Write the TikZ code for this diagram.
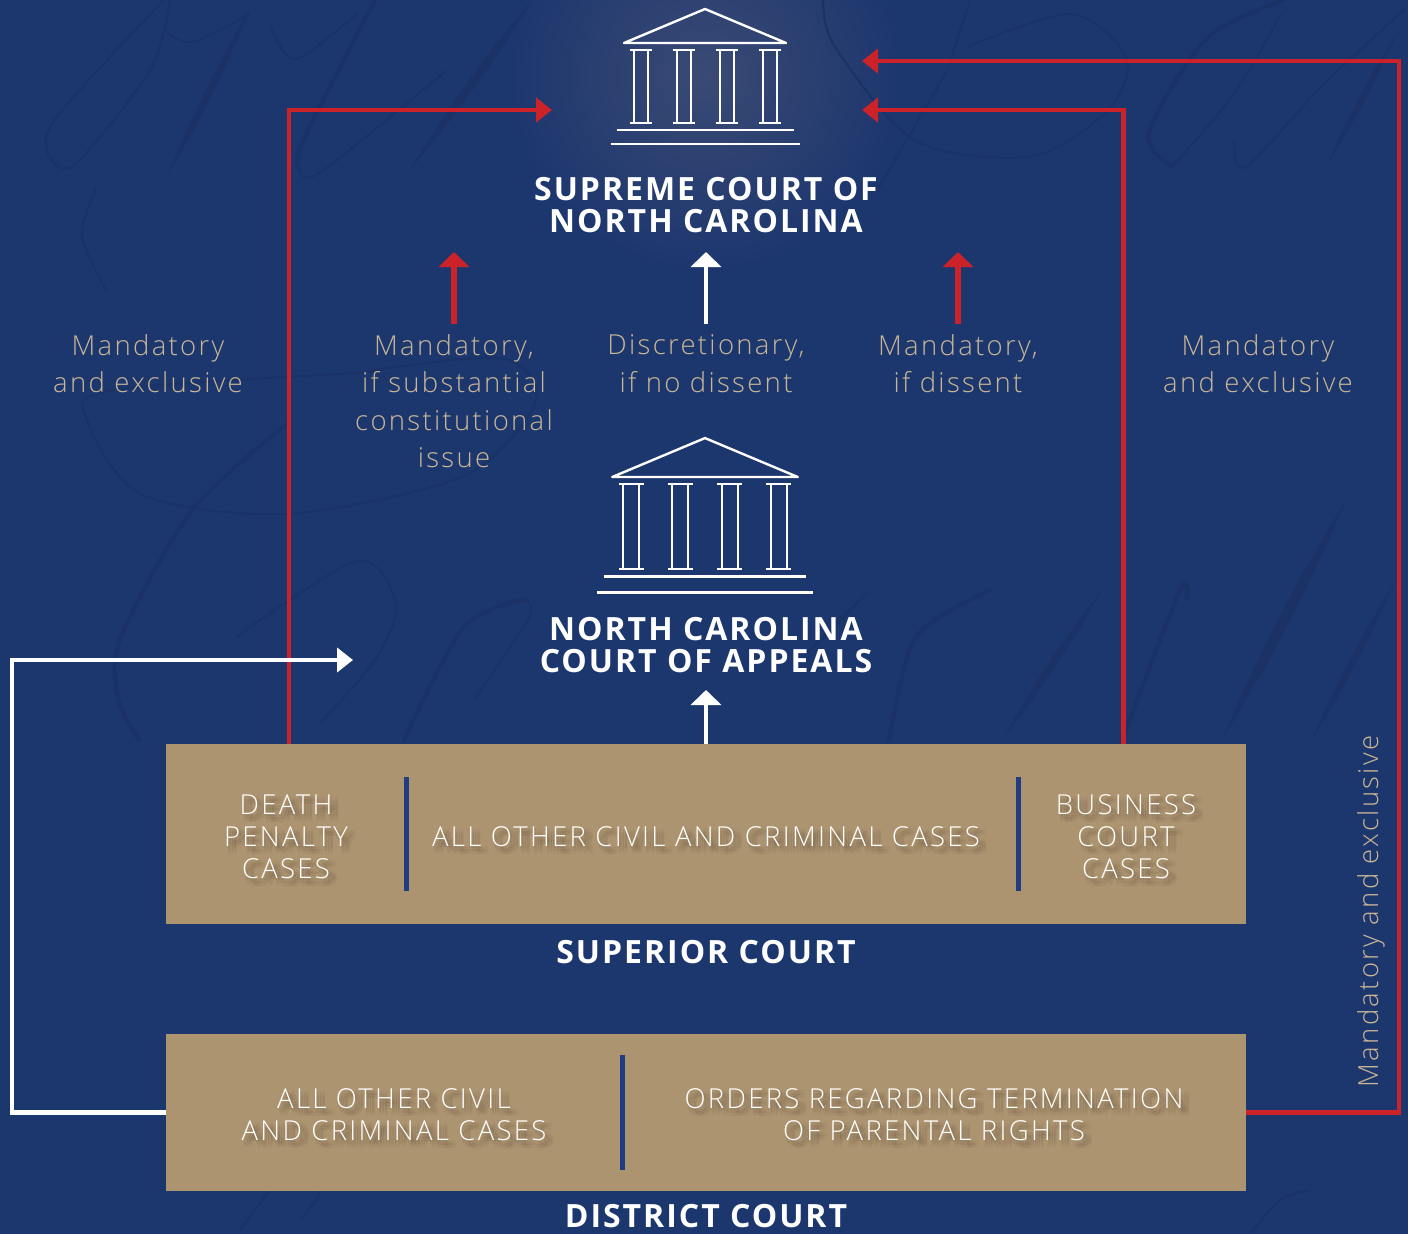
\documentclass[tikz,border=0pt]{standalone}
\usepackage{fontspec}
\setmainfont{Open Sans}
\newfontfamily\lightfont[LetterSpace=8.4]{Open Sans Light}
\newfontfamily\boldfont[LetterSpace=6.2]{Open Sans Bold}
\usetikzlibrary{arrows.meta, calc}
\definecolor{navy}{HTML}{1C366E}
\definecolor{swash}{HTML}{1A3266}
\definecolor{glow}{HTML}{3A4A74}
\definecolor{tan}{HTML}{AD9470}
\definecolor{labeltan}{HTML}{C9B696}
\definecolor{appealred}{HTML}{CC2229}
\definecolor{bardark}{HTML}{1F3D80}
\tikzset{
  redline/.style = {draw = appealred, line width = 4.8pt},
  whiteline/.style = {draw = white, line width = 4.8pt},
  bigtip/.style = {-{Triangle[length = 16pt, width = 24pt]}},
  uptip/.style = {-{Triangle[length = 15pt, width = 30pt]}},
  courtbox/.style = {fill = tan, minimum width = 1080pt, inner sep = 0pt},
  divider/.style = {draw = bardark, line width = 5pt},
  heading/.style = {text = white, align = center, inner sep = 0pt,
    font = \boldfont\fontsize{32}{32}\selectfont},
  routelabel/.style = {text = labeltan, align = center, inner sep = 0pt,
    font = \lightfont\fontsize{27.5}{37.5}\selectfont},
  casetext/.style = {text = white, align = center, inner sep = 0pt,
    font = \lightfont\fontsize{27.5}{32}\selectfont},
  caseshadow/.style = {casetext, text = black, text opacity = 0.035},
  thinswash/.style = {draw = swash, line width = 2pt},
  thickswash/.style = {draw = swash, line width = 4pt, line cap = round},
  temple/.pic = {
    \draw[white, line width = 2.4pt, line join = round]
      (-81, 0) -- (0, -34) -- (81, 0) -- cycle;
    \foreach \cx in {-64.5, -21.5, 21.5, 64.5} {
      \draw[white, line width = 2pt]
        (\cx - 11, 6.5) -- (\cx + 11, 6.5)
        (\cx - 11, 80) -- (\cx + 11, 80)
        (\cx - 7, 6.5) -- (\cx - 7, 80)
        (\cx + 7, 6.5) -- (\cx + 7, 80);
    }
    \draw[white, line width = 2.4pt] (-88.5, 87) -- (88.5, 87);
    \draw[white, line width = 2.4pt] (-94.5, 100.7) -- (94.5, 100.7);
  }
}
\newcommand{\inkstroke}[2]{
  \fill[swash] (#1) to[bend left = 4] (#2) to[bend left = 4] (#1);
}
\newcommand{\casenode}[3]{
  \foreach \dx/\dy [count = \k] in {5/5, 3/4, 7/4, 3/6, 7/6, 5/3, 5/7, 2/2, 8/2, 2/8, 8/8, 1/5, 9/5} {
    \node[caseshadow] (#1shadow\k) at ($(#2) + (\dx, \dy)$) {#3};
  }
  \node[casetext] (#1) at (#2) {#3};
}
\begin{document}
\begin{tikzpicture}[x = 1pt, y = -1pt]
  \useasboundingbox (0, 0) rectangle (1408, 1234);
  \clip (0, 0) rectangle (1408, 1234);
  \fill[navy] (0, 0) rectangle (1408, 1234);
  % glow behind the top building
  \shade[inner color = glow, outer color = navy] (705, 75) circle (200);
  % script behind
  \draw[thinswash] plot [smooth] coordinates {(164, 0) (50, 127) (71, 167) (150, 70) (170, 0)};
  \inkstroke{250, 9}{168, 175}
  \draw[thinswash] plot [smooth] coordinates {(168, 33) (193, 42) (250, 14)};
  \draw[thinswash] plot [smooth] coordinates {(271, 28) (296, 59) (357, 14)};
  \draw[thickswash] plot [smooth] coordinates {(375, 0) (303, 141) (300, 170)};
  \draw[thinswash] plot [smooth] coordinates {(300, 170) (321, 172) (446, 71)};
  \inkstroke{532, 0}{410, 170}
  \draw[thinswash] plot [smooth] coordinates {(96, 189) (82, 236) (107, 292)};
  \draw[thinswash] plot [smooth] coordinates {(357, 373) (107, 391) (89, 425) (143, 495)
    (286, 514) (464, 476) (536, 401) (500, 358) (357, 373)};
  \draw[thickswash] plot [smooth] coordinates {(286, 425) (193, 509) (121, 637) (118, 698) (139, 740)};
  \draw[thinswash] plot [smooth] coordinates {(236, 637) (357, 561) (396, 604) (375, 660) (321, 722)};
  \draw[thickswash] plot [smooth] coordinates {(404, 740) (464, 627) (525, 599)};
  \draw[thinswash] plot [smooth] coordinates {(525, 599) (529, 618) (475, 698)};
  \draw[thinswash] plot [smooth] coordinates {(823, 0) (835, 47) (916, 141) (1033, 156)
    (1110, 108) (1126, 57) (1071, 14) (967, 47)};
  \inkstroke{970, 0}{947, 71}
  \draw[thinswash] (947, 71) -- (878, 189);
  \draw[thickswash] plot [smooth] coordinates {(1284, 0) (1207, 38) (1149, 132) (1172, 167)};
  \draw[thinswash] plot [smooth] coordinates {(1172, 167) (1234, 94) (1281, 14)};
  \draw[thinswash] plot [smooth] coordinates {(1234, 141) (1246, 167) (1323, 85) (1405, 9)};
  \inkstroke{1397, 33}{1327, 165}
  \draw[thickswash] plot [smooth] coordinates {(889, 740) (916, 637) (990, 590)};
  \inkstroke{1002, 740}{1102, 590}
  \draw[thickswash] plot [smooth] coordinates {(1122, 740) (1180, 590) (1187, 599)};
  \inkstroke{1222, 740}{1346, 500}
  \inkstroke{1312, 740}{1393, 585}
  \inkstroke{870, 590}{800, 660}
  \draw[thinswash] plot [smooth] coordinates {(240, 1230) (290, 1170) (320, 1190) (300, 1220)};
  \draw[thinswash] plot [smooth] coordinates {(1310, 1190) (1280, 1200) (1250, 1234)};
  % anchors for free ends
  \coordinate (topleft) at (552, 110);
  \coordinate (topright) at (862, 110);
  \coordinate (topfar) at (862, 61);
  \coordinate (appealsin) at (353, 660);
  \coordinate (arrowsub) at (454, 252);
  \coordinate (arrowno) at (706, 252);
  \coordinate (arrowyes) at (958, 252);
  \coordinate (arrowappeals) at (706, 690);
  \coordinate (deathline) at (289, 744);
  \coordinate (businessline) at (1123.5, 744);
  % boxes
  \node[courtbox, minimum height = 180pt] (superior) at (706, 834) {};
  \node[courtbox, minimum height = 157pt] (district) at (706, 1112.5) {};
  % connectors
  \draw[redline, bigtip] (deathline) |- (topleft);
  \draw[redline, bigtip] (businessline) |- (topright);
  \draw[redline, bigtip] (district.east) -| (1399, 61) -- (topfar);
  \draw[whiteline, bigtip] (district.west) -| (12, 660) -- (appealsin);
  \draw[whiteline, uptip] (superior.north) -- (arrowappeals);
  % buildings
  \pic at (705, 43) {temple};
  \pic[scale = 1.145] at (705, 477) {temple};
  % headings
  \node[heading] (supreme) at (706, 205.5) {SUPREME COURT OF\\NORTH CAROLINA};
  \node[heading] (appeals) at (706, 645.5) {NORTH CAROLINA\\COURT OF APPEALS};
  \node[heading] (superiorname) at (706, 952.5) {SUPERIOR COURT};
  \node[heading] (districtname) at (706, 1216.5) {DISTRICT COURT};
  % route labels
  \node[routelabel] (leftmand) at (148, 363.5) {Mandatory\\and exclusive};
  \node[routelabel] (substantial) at (454, 401) {Mandatory,\\if substantial\\constitutional\\issue};
  \node[routelabel] (nodissent) at (706, 363.5) {Discretionary,\\if no dissent};
  \node[routelabel] (dissent) at (958, 363.5) {Mandatory,\\if dissent};
  \node[routelabel] (rightmand) at (1258, 363.5) {Mandatory\\and exclusive};
  \node[routelabel, rotate = 90] (farmand) at (1371, 911.5) {Mandatory and exclusive};
  \draw[redline, line width = 5.5pt, uptip, shorten <= 10pt] (substantial.north) -- (arrowsub);
  \draw[whiteline, uptip, shorten <= 10pt] (nodissent.north) -- (arrowno);
  \draw[redline, line width = 5.5pt, uptip, shorten <= 10pt] (dissent.north) -- (arrowyes);
  % cases
  \coordinate (deathpos) at (286, 837);
  \coordinate (otherpos) at (706, 837);
  \coordinate (businesspos) at (1126, 837);
  \coordinate (civilpos) at (394, 1115);
  \coordinate (parentalpos) at (934, 1115);
  \casenode{death}{deathpos}{DEATH\\PENALTY\\CASES}
  \casenode{other}{otherpos}{ALL OTHER CIVIL AND CRIMINAL CASES}
  \casenode{business}{businesspos}{BUSINESS\\COURT\\CASES}
  \casenode{civil}{civilpos}{ALL OTHER CIVIL\\AND CRIMINAL CASES}
  \casenode{parental}{parentalpos}{ORDERS REGARDING TERMINATION\\OF PARENTAL RIGHTS}
  \coordinate (bar1a) at (406, 777);
  \coordinate (bar1b) at (406, 891);
  \coordinate (bar2a) at (1018, 777);
  \coordinate (bar2b) at (1018, 891);
  \coordinate (bar3a) at (622, 1055);
  \coordinate (bar3b) at (622, 1170);
  \draw[divider] (bar1a) -- (bar1b);
  \draw[divider] (bar2a) -- (bar2b);
  \draw[divider] (bar3a) -- (bar3b);
\end{tikzpicture}
\end{document}
